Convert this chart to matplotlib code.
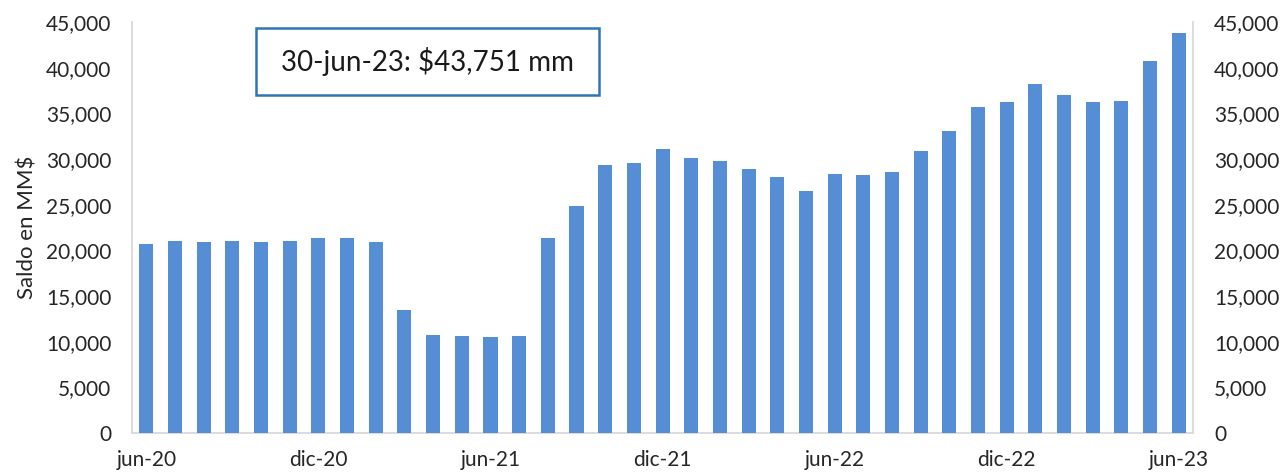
import matplotlib.pyplot as plt
import matplotlib.patches as patches
from matplotlib.ticker import FuncFormatter

# monthly balance, jun-20 .. jun-23 (MM$)
months = [
    "jun-20", "jul-20", "ago-20", "sep-20", "oct-20", "nov-20",
    "dic-20", "ene-21", "feb-21", "mar-21", "abr-21", "may-21",
    "jun-21", "jul-21", "ago-21", "sep-21", "oct-21", "nov-21",
    "dic-21", "ene-22", "feb-22", "mar-22", "abr-22", "may-22",
    "jun-22", "jul-22", "ago-22", "sep-22", "oct-22", "nov-22",
    "dic-22", "ene-23", "feb-23", "mar-23", "abr-23", "may-23",
    "jun-23",
]
saldo = [
    20700, 21040, 20890, 21040, 20890, 21040,
    21300, 21300, 20890, 13440, 10780, 10590,
    10480, 10590, 21300, 24800, 29330, 29590,
    31120, 30140, 29730, 28890, 28050, 26480,
    28350, 28200, 28600, 30870, 33100, 35650,
    36200, 38170, 37040, 36200, 36350, 40730,
    43751,
]
tick_every = 6
note = "30-jun-23: $43,751 mm"

bar_color = "#558ed5"
axis_color = "#d9d9d9"
text_color = "#262626"
font = "Lato"

fig = plt.figure(figsize=(12.87, 4.74), dpi=100)
ax = fig.add_axes([0.1026, 0.0865, 0.8244, 0.8671])

x = list(range(len(saldo)))
ax.bar(x, saldo, width=0.49, color=bar_color, zorder=3)

ax.set_xlim(-0.5, len(saldo) - 0.5)
ax.set_ylim(0, 45000)
ax.set_yticks(range(0, 45001, 5000))
ax.yaxis.set_major_formatter(FuncFormatter(lambda v, p: f"{int(v):,}"))
ax.set_xticks(x[::tick_every])
ax.set_xticklabels(months[::tick_every])

ax.spines["top"].set_visible(False)
for side in ["left", "bottom", "right"]:
    ax.spines[side].set_color(axis_color)
    ax.spines[side].set_linewidth(1.3)

ax.tick_params(axis="y", length=0, pad=15, labelsize=15, labelcolor=text_color)
ax.tick_params(axis="x", length=0, pad=12, labelsize=15, labelcolor=text_color)
for lbl in ax.get_xticklabels() + ax.get_yticklabels():
    lbl.set_fontfamily(font)

ax.set_ylabel("Saldo en MM$", fontsize=16, family=font, color=text_color, labelpad=6)

# mirrored scale on the right
ax2 = ax.twinx()
ax2.set_ylim(ax.get_ylim())
ax2.set_yticks(range(0, 45001, 5000))
ax2.yaxis.set_major_formatter(FuncFormatter(lambda v, p: f"{int(v):,}"))
ax2.tick_params(axis="y", length=0, pad=15, labelsize=15, labelcolor=text_color)
for lbl in ax2.get_yticklabels():
    lbl.set_fontfamily(font)
for side in ["top", "left", "bottom", "right"]:
    ax2.spines[side].set_visible(False)

# annotation box
box = patches.Rectangle((256 / 1287, 1 - 95 / 474), 343 / 1287, 67 / 474,
                        transform=fig.transFigure, facecolor="white",
                        edgecolor="#2e75b6", linewidth=1.8, zorder=5)
fig.patches.append(box)
fig.text(427.5 / 1287, 1 - 61.5 / 474, note, ha="center", va="center",
         fontsize=20, family=font, color="#1a1a1a", zorder=6)

fig.savefig("out.png", dpi=100)
